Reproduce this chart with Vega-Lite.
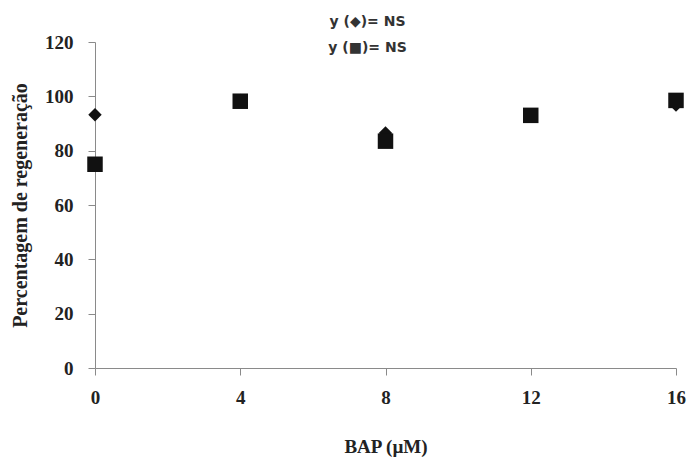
{
  "$schema": "https://vega.github.io/schema/vega-lite/v6.json",
  "autosize": "none",
  "width": 581,
  "height": 326,
  "padding": {"left": 95, "top": 42, "right": 12, "bottom": 91},
  "background": "white",
  "title": {
    "text": ["y (◆)= NS", "y (■)= NS"],
    "font": "DejaVu Sans",
    "fontSize": 14,
    "fontWeight": "bold",
    "color": "#333333",
    "lineHeight": 26,
    "anchor": "middle",
    "offset": -8,
    "dx": -18,
    "dy": 14
  },
  "data": {
    "values": [
      {"bap": 0, "pct": 93.2, "tipo": "diamante"},
      {"bap": 4, "pct": 98.5, "tipo": "diamante"},
      {"bap": 8, "pct": 86.5, "tipo": "diamante"},
      {"bap": 12, "pct": 93.0, "tipo": "diamante"},
      {"bap": 16, "pct": 96.8, "tipo": "diamante"},
      {"bap": 0, "pct": 75.0, "tipo": "quadrado"},
      {"bap": 4, "pct": 98.2, "tipo": "quadrado"},
      {"bap": 8, "pct": 83.5, "tipo": "quadrado"},
      {"bap": 12, "pct": 93.0, "tipo": "quadrado"},
      {"bap": 16, "pct": 98.5, "tipo": "quadrado"}
    ]
  },
  "mark": {"type": "point", "filled": true, "opacity": 1, "clip": false, "color": "#111111"},
  "encoding": {
    "x": {
      "field": "bap", "type": "quantitative",
      "scale": {"domain": [0, 16], "nice": false, "zero": false},
      "axis": {"values": [0, 4, 8, 12, 16], "title": "BAP (µM)", "grid": false}
    },
    "y": {
      "field": "pct", "type": "quantitative",
      "scale": {"domain": [0, 120], "nice": false},
      "axis": {"values": [0, 20, 40, 60, 80, 100, 120], "title": "Percentagem de regeneração", "grid": false}
    },
    "shape": {
      "field": "tipo", "type": "nominal",
      "scale": {"domain": ["diamante", "quadrado"], "range": ["diamond", "square"]},
      "legend": null
    },
    "size": {
      "field": "tipo", "type": "nominal",
      "scale": {"domain": ["diamante", "quadrado"], "range": [180, 240]},
      "legend": null
    },
    "order": {"field": "tipo", "sort": "ascending"}
  },
  "config": {
    "view": {"stroke": null},
    "axis": {
      "domainColor": "#8a8a8a",
      "tickColor": "#8a8a8a",
      "tickSize": 7,
      "labelFont": "Liberation Serif",
      "labelFontSize": 19,
      "labelFontWeight": "bold",
      "labelColor": "#222222",
      "titleFont": "Liberation Serif",
      "titleFontSize": 19,
      "titleFontWeight": "bold",
      "titleColor": "#222222"
    },
    "axisX": {"labelPadding": 13, "titlePadding": 30, "labelFlush": false},
    "axisY": {"labelPadding": 15, "titlePadding": 14, "titleFontSize": 20}
  }
}
